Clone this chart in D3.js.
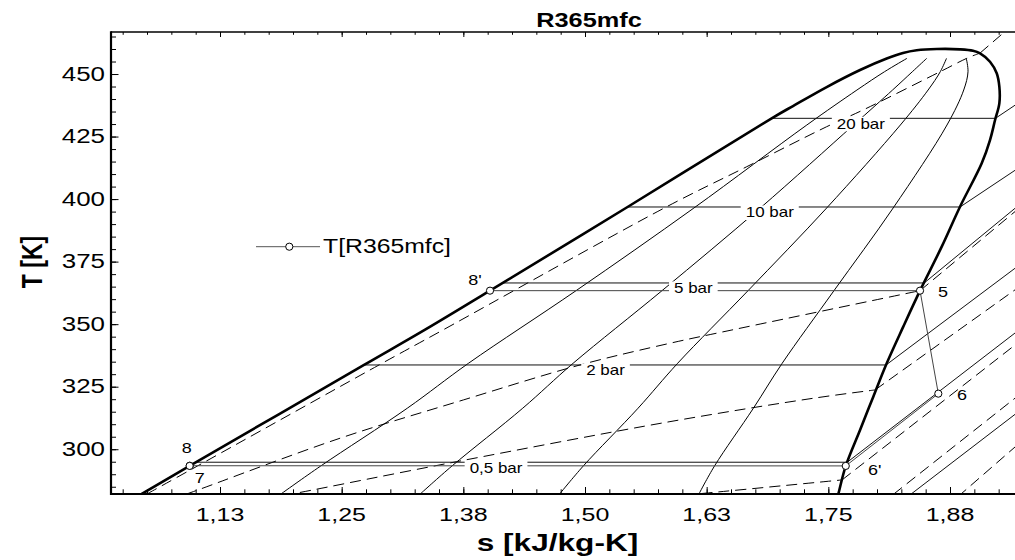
<!DOCTYPE html>
<html><head><meta charset="utf-8">
<script src="https://cdn.jsdelivr.net/npm/d3@7"></script>
<style>body{margin:0;background:#fff}svg{display:block}</style>
</head><body>
<svg id="c" width="1015" height="560"></svg>
<script>
// ---------- DATA (s in kJ/kg-K, T in K) ----------
const satLiquidS = [1.0325, 1.0446, 1.0938, 1.2730, 1.3353, 1.4024, 1.5437, 1.6918, 1.7137, 1.7483, 1.7826, 1.8100, 1.8267, 1.8408, 1.8614];
const satLiquidT = [279.34, 282.13, 293.33, 333.69, 347.68, 363.39, 396.84, 432.29, 437.21, 444.80, 451.60, 456.19, 458.39, 459.47, 459.99];
const satVaporS = [1.8614, 1.8853, 1.8987, 1.9059, 1.9161, 1.9230, 1.9257, 1.9257, 1.9213, 1.9161, 1.9076, 1.8853, 1.8665, 1.8442, 1.8270, 1.8100, 1.7962, 1.7826, 1.7679, 1.7603, 1.7573];
const satVaporT = [459.99, 459.87, 459.31, 458.27, 454.92, 450.28, 444.92, 438.29, 431.61, 423.62, 414.31, 396.96, 380.98, 363.39, 349.00, 334.37, 321.02, 307.71, 293.33, 282.13, 277.74];

// constant-quality lines x = 0.2, 0.4, 0.6, 0.8
const qualityT = [282.13, 293.33, 316.39, 334.37, 363.39, 396.44, 429.62, 443.61, 450.92, 456.27];
const quality02S = [1.1877, 1.2286, 1.3174, 1.3803, 1.4908, 1.6119, 1.7279, 1.7794, 1.8077, 1.8308];
const quality04S = [1.3308, 1.3634, 1.4360, 1.4878, 1.5791, 1.6801, 1.7759, 1.8160, 1.8363, 1.8511];
const quality06S = [1.4740, 1.4983, 1.5545, 1.5952, 1.6675, 1.7483, 1.8240, 1.8525, 1.8650, 1.8714];
const quality08S = [1.6171, 1.6331, 1.6730, 1.7026, 1.7558, 1.8166, 1.8719, 1.8891, 1.8935, 1.8917];

// isobars
const isobarLabels = ["20 bar", "10 bar", "5 bar", "2 bar", "0,5 bar"];
const isobarT     = [432.29, 396.84, 366.47, 333.69, 294.80];
const isobarLiqS  = [1.6918, 1.5437, 1.4156, 1.2730, 1.1001];
const isobarVapS  = [1.9217, 1.8853, 1.8485, 1.8093, 1.7694];
const isobarEndS  = [1.9603, 1.9603, 1.9603, 1.9603, 1.9603];
const isobarEndT  = [442.37, 416.31, 402.24, 377.74, 352.00];
const isobarLabelS = [1.7834, 1.6898, 1.6113, 1.5211, 1.4086];
// unlabeled low-pressure isobar (superheated only)
const lowIsobarS = [1.8138, 1.9603];
const lowIsobarT = [275.74, 319.46];

// isochores (dashed): two-phase part + superheated end point
const iso1S = [1.0500, 1.0983, 1.2884, 1.3541, 1.5840, 1.6662, 1.7483, 1.7856, 1.8648, 1.8922, 1.9059];
const iso1T = [282.13, 292.53, 333.69, 347.68, 396.96, 412.95, 428.94, 435.61, 450.92, 456.27, 458.39];
const iso2S = [1.0736, 1.0976, 1.2483, 1.3750, 1.4949, 1.5873, 1.6510, 1.8442];
const iso2T = [279.74, 283.05, 304.40, 319.70, 333.69, 342.37, 347.68, 363.39];
const iso3S = [1.1558, 1.2031, 1.3682, 1.5873, 1.7346, 1.7980];
const iso3T = [278.94, 282.41, 295.04, 311.03, 320.38, 323.70];
const iso4S = [1.5154, 1.6230, 1.7641];
const iso4T = [278.54, 282.41, 287.73];
const isoEndS = [1.9333, 1.9603, 1.9603, 1.9603];
const isoEndT = [467.59, 401.00, 368.87, 347.28];
// superheated-only isochores
const isoSupStartS = [1.8031, 1.8699];
const isoSupStartT = [277.74, 276.54];
const isoSupEndS = [1.9603, 1.9603];
const isoSupEndT = [326.10, 307.16];

// cycle state points
const stateNames = ["5", "6", "6'", "7", "8", "8'"];
const stateS = [1.8442, 1.8630, 1.7679, 1.0940, 1.0938, 1.4024];
const stateT = [363.39, 322.22, 293.33, 293.40, 293.33, 363.39];

// axes ticks
const xTickValues = [1.125, 1.25, 1.375, 1.5, 1.625, 1.75, 1.875];
const xTickLabels = ["1,13", "1,25", "1,38", "1,50", "1,63", "1,75", "1,88"];
const yTickValues = [300, 325, 350, 375, 400, 425, 450];
const yTickLabels = ["300", "325", "350", "375", "400", "425", "450"];

// ---------- DRAWING ----------
const svg = d3.select("#c").attr("font-family", "'Liberation Sans', Arial, sans-serif");
const L = 111, T0 = 32, B = 494;
const x = d3.scaleLinear().domain([1.013, 1.95]).range([L, 1023]);
const y = d3.scaleLinear().domain([282.1, 466.8]).range([B, T0]);

svg.append("defs").append("clipPath").attr("id", "clip")
  .append("rect").attr("x", L).attr("y", T0).attr("width", 920).attr("height", B - T0);

const plot = svg.append("g").attr("clip-path", "url(#clip)");
const zip = (S, Tt) => S.map((s, i) => [s, Tt[i]]);
const lineLin = d3.line().x(d => x(d[0])).y(d => y(d[1]));
const lineSmooth = d3.line().x(d => x(d[0])).y(d => y(d[1])).curve(d3.curveCatmullRom.alpha(0.5));

// quality lines
[quality02S, quality04S, quality06S, quality08S].forEach(S => {
  plot.append("path").attr("d", lineSmooth(zip(S, qualityT)))
    .attr("fill", "none").attr("stroke", "#000").attr("stroke-width", 1);
});

// isochores
const dash = "11,6";
[[iso1S, iso1T], [iso2S, iso2T], [iso3S, iso3T], [iso4S, iso4T]].forEach((p, i) => {
  const pts = zip(p[0], p[1]);
  plot.append("path").attr("d", lineSmooth(pts))
    .attr("fill", "none").attr("stroke", "#000").attr("stroke-width", 1).attr("stroke-dasharray", dash);
  plot.append("path").attr("d", lineLin([pts[pts.length - 1], [isoEndS[i], isoEndT[i]]]))
    .attr("fill", "none").attr("stroke", "#000").attr("stroke-width", 1).attr("stroke-dasharray", dash);
});
isoSupStartS.forEach((s, i) => {
  plot.append("path").attr("d", lineLin([[s, isoSupStartT[i]], [isoSupEndS[i], isoSupEndT[i]]]))
    .attr("fill", "none").attr("stroke", "#000").attr("stroke-width", 1).attr("stroke-dasharray", dash);
});

// isobars
isobarT.forEach((t, i) => {
  plot.append("path").attr("d", lineLin([[isobarLiqS[i], t], [isobarVapS[i], t], [isobarEndS[i], isobarEndT[i]]]))
    .attr("fill", "none").attr("stroke", "#111").attr("stroke-width", 1);
});
plot.append("path").attr("d", lineLin(zip(lowIsobarS, lowIsobarT)))
  .attr("fill", "none").attr("stroke", "#111").attr("stroke-width", 1);

// cycle path 5-6-6'-7-8-(liquid)-8'-5
const st = zip(stateS, stateT);
const liqPart = zip(satLiquidS, satLiquidT).filter(d => d[1] > stateT[4] + 0.1 && d[1] < stateT[5] - 0.1);
const cyclePts = [st[0], st[1], st[2], st[3], st[4]].concat(liqPart, [st[5], st[0]]);
plot.append("path").attr("d", lineLin(cyclePts))
  .attr("fill", "none").attr("stroke", "#444").attr("stroke-width", 1);

// saturation dome
const dome = zip(satLiquidS, satLiquidT).concat(zip(satVaporS.slice(1), satVaporT.slice(1)));
plot.append("path").attr("d", lineSmooth(dome))
  .attr("fill", "none").attr("stroke", "#000").attr("stroke-width", 2.6).attr("stroke-linejoin", "round");

function addText(g, str, px, py, size, sx, anchor, weight) {
  return g.append("text").attr("transform", `translate(${px},${py}) scale(${sx},1)`)
    .attr("text-anchor", anchor).attr("font-size", size)
    .attr("font-weight", weight || "normal").attr("fill", "#000").text(str);
}

// isobar labels with white boxes
const labG = svg.append("g");
isobarLabels.forEach((lab, i) => {
  const cx = x(isobarLabelS[i]), by = y(isobarT[i]) + 10.5;
  const g = labG.append("g");
  const r = g.append("rect");
  const t = addText(g, lab, cx, by, 14.5, 1.17, "middle");
  const w = t.node().getComputedTextLength() * 1.17;
  r.attr("x", cx - w / 2 - 5).attr("y", by - 12).attr("width", w + 10).attr("height", 14.5).attr("fill", "#fff");
});

// state points
const circG = svg.append("g");
st.forEach(d => {
  circG.append("circle").attr("cx", x(d[0])).attr("cy", y(d[1])).attr("r", 3.6)
    .attr("fill", "#fff").attr("stroke", "#000").attr("stroke-width", 1);
});
const stateLabelPos = {"5": [18, 6.6, "start"], "6": [18.7, 6.3, "start"], "6'": [22.3, 9, "start"],
  "7": [10, 17.3, "middle"], "8": [-3, -12.7, "middle"], "8'": [-8.3, -5.7, "end"]};
stateNames.forEach((n, i) => {
  const p = stateLabelPos[n];
  addText(svg, n, x(stateS[i]) + p[0], y(stateT[i]) + p[1], 15, 1.2, p[2]);
});

// axes
const axG = svg.append("g");
const yMinor = d3.range(285, 466, 5);
const xMinor = d3.range(1.025, 1.94, 0.025);
function ticks(axis, vals, size, tx, ty) {
  const g = axG.append("g").attr("transform", `translate(${tx},${ty})`)
    .call(axis.tickValues(vals).tickSize(size).tickFormat(""));
  g.select(".domain").remove();
  g.selectAll("line").attr("stroke", "#000").attr("stroke-width", 1);
}
ticks(d3.axisRight(y), yMinor, 5, L, 0);
ticks(d3.axisRight(y), yTickValues, 7.5, L, 0);
ticks(d3.axisTop(x), xMinor, 4.7, 0, B);
ticks(d3.axisTop(x), xTickValues, 7, 0, B);
ticks(d3.axisBottom(x), xMinor, 2.8, 0, T0);
ticks(d3.axisBottom(x), xTickValues, 5, 0, T0);

axG.append("line").attr("x1", L).attr("x2", 1015).attr("y1", T0).attr("y2", T0).attr("stroke", "#000").attr("stroke-width", 1.5);
axG.append("line").attr("x1", L).attr("x2", 1015).attr("y1", B).attr("y2", B).attr("stroke", "#000").attr("stroke-width", 2.2);
axG.append("line").attr("x1", L).attr("x2", L).attr("y1", T0 - 0.7).attr("y2", B + 1).attr("stroke", "#000").attr("stroke-width", 2.2);

yTickValues.forEach((v, i) => addText(axG, yTickLabels[i], 105, y(v) + 6.5, 19.5, 1.33, "end"));
xTickValues.forEach((v, i) => addText(axG, xTickLabels[i], x(v), 520.7, 18.8, 1.33, "middle"));

// titles
addText(svg, "R365mfc", 589, 26.7, 19.5, 1.3, "middle", "bold");
addText(svg, "s [kJ/kg-K]", 557.5, 551.3, 23, 1.375, "middle", "bold");
svg.append("text").attr("transform", "translate(41.5,262) scale(1.3,1) rotate(-90)")
  .attr("text-anchor", "middle").attr("font-size", 23).attr("font-weight", "bold").text("T [K]");

// legend
const lg = svg.append("g");
lg.append("line").attr("x1", 256).attr("x2", 320).attr("y1", 246.7).attr("y2", 246.7).attr("stroke", "#555").attr("stroke-width", 1);
lg.append("circle").attr("cx", 289.3).attr("cy", 246.7).attr("r", 3.6).attr("fill", "#fff").attr("stroke", "#000");
addText(lg, "T[R365mfc]", 323, 253.3, 21, 1.18, "start");
</script>
</body></html>
